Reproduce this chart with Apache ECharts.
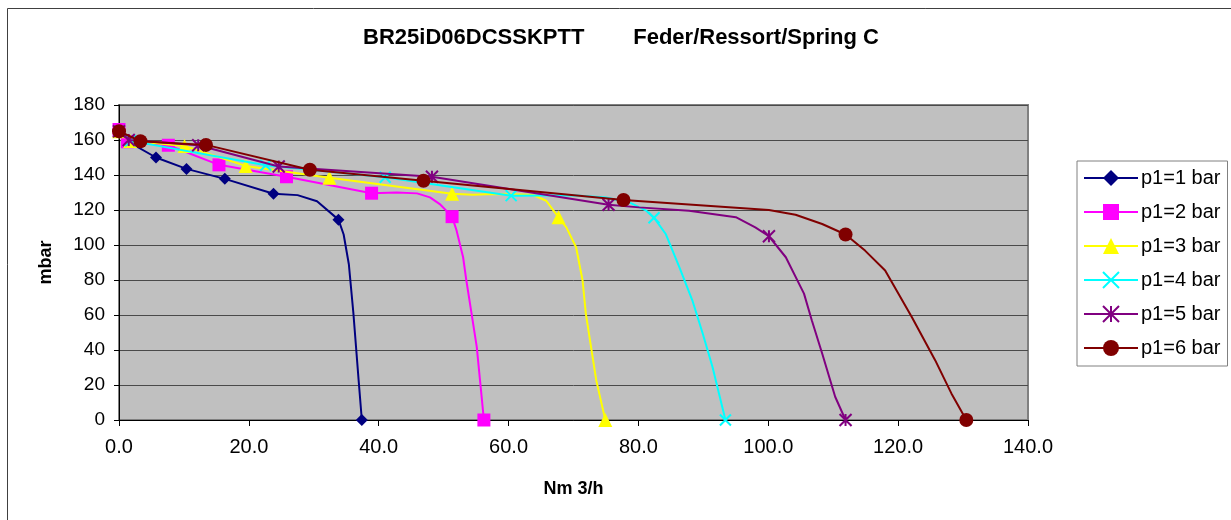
<!DOCTYPE html>
<html><head><meta charset="utf-8">
<script src="https://cdn.jsdelivr.net/npm/echarts@6/dist/echarts.min.js"></script>
<style>html,body{margin:0;padding:0;background:#fff}#c{width:1231px;height:520px}</style>
</head><body><div id="c"></div>
<script>
const chartTitle = 'BR25iD06DCSSKPTT        Feder/Ressort/Spring C';
const xAxisName = 'Nm 3/h';
const yAxisName = 'mbar';
const seriesNames = ['p1=1 bar', 'p1=2 bar', 'p1=3 bar', 'p1=4 bar', 'p1=5 bar', 'p1=6 bar'];
// points: [flow Nm3/h, pressure mbar, marker shown 1/0]
const p1bar = [[0,165,1],[1.2,159.5,1],[5.7,150,1],[10.4,143.5,1],[16.3,137.8,1],[23.8,129.3,1],[27.5,128.5,0],[30.5,125,0],[33.8,114.5,1],[34.6,106,0],[35.4,89,0],[36.1,61,0],[36.5,42,0],[36.9,23,0],[37.4,0,1]];
const p2bar = [[0,166,1],[1.3,159,1],[7.6,157,1],[15.4,145.8,1],[25.8,139,1],[38.9,129.6,1],[42.8,130,0],[45.9,129.5,0],[47.9,127.2,0],[49.4,123.4,0],[51.3,116.2,1],[52.0,108.2,0],[53.0,93,0],[53.5,79.7,0],[54.3,60.8,0],[55.1,41.8,0],[55.6,22.8,0],[56.2,0,1]];
const p3bar = [[0,165,1],[1.7,159.5,1],[10.1,156.6,1],[19.5,145.2,1],[32.4,138.4,1],[51.3,129.3,1],[54.5,128.7,0],[57.6,129.1,0],[63.7,128.7,0],[65.8,125.3,0],[67.7,115.8,1],[68.9,110.1,0],[70.4,98.7,0],[71.4,79.7,0],[71.9,60.8,0],[72.7,41.8,0],[73.5,22.8,0],[74.9,0,1]];
const p4bar = [[0,165,1],[1.8,159.5,1],[22.6,145.6,1],[41.0,138.7,1],[60.4,128.2,1],[69.8,128.4,0],[75.0,127.2,0],[78.6,124.3,0],[81.2,119.6,0],[82.4,115.6,1],[84.2,106.3,0],[86.3,87.3,0],[88.3,68.4,0],[89.9,49.4,0],[91.4,30.4,0],[93.4,0,1]];
const p5bar = [[0,165,1],[1.5,160,1],[12.2,157,1],[24.6,144.9,1],[48.2,139,1],[75.4,123,1],[80.1,121.5,0],[87.8,119.6,0],[95.0,115.9,0],[98.0,110.1,0],[100.1,105,1],[102.7,93,0],[105.5,72.2,0],[106.7,57,0],[108.3,38,0],[110.3,13.3,0],[111.9,0,1]];
const p6bar = [[0,165,1],[3.3,159.3,1],[13.4,157.2,1],[29.4,143,1],[46.9,136.7,1],[77.7,125.7,1],[100.1,120,0],[104.2,117.3,0],[108.3,112,0],[111.9,106,1],[114.9,96.8,0],[118.0,85.4,0],[122.1,58.8,0],[125.7,34.2,0],[128.2,15.2,0],[130.5,0,1]];
const allData = [p1bar, p2bar, p3bar, p4bar, p5bar, p6bar];
const xTicks = {min: 0, max: 140, interval: 20};
const yTicks = {min: 0, max: 180, interval: 20};

const colors = ['#000080', '#FF00FF', '#FFFF00', '#00FFFF', '#800080', '#800000'];
const symbols = ['diamond', 'rect', 'triangle', 'path://M0,0L10,10M10,0L0,10', 'path://M0,0L10,10M10,0L0,10M5,0L5,10', 'circle'];
const sizes = [12, 13, 14, 11, 12, 14];
const stroked = [false, false, false, true, true, false];
const FONT = '"Liberation Sans", Arial, sans-serif';

const series = allData.map((pts, i) => ({
  name: seriesNames[i],
  type: 'line',
  data: pts.map(p => p[2] ? [p[0], p[1]] : {value: [p[0], p[1]], symbol: 'none'}),
  symbol: symbols[i],
  symbolSize: sizes[i],
  showAllSymbol: true,
  lineStyle: {color: colors[i], width: 2},
  itemStyle: stroked[i] ? {color: colors[i], borderColor: colors[i], borderWidth: 2} : {color: colors[i], borderWidth: 0},
  color: colors[i],
  animation: false,
  clip: false,
  z: 3 + i
}));

const chart = echarts.init(document.getElementById('c'));
chart.setOption({
  backgroundColor: '#fff',
  animation: false,
  title: {
    text: chartTitle, left: 621, textAlign: 'center', top: 27, padding: 0,
    textStyle: {fontFamily: FONT, fontSize: 22, fontWeight: 'bold', color: '#000'}
  },
  graphic: [{
    type: 'rect', silent: true, z: 0,
    shape: {x: 7.5, y: 8.5, width: 1260, height: 560},
    style: {fill: 'none', stroke: '#404040', lineWidth: 1}
  }],
  legend: {
    orient: 'vertical', left: 1077, top: 161,
    padding: [7, 7, 8, 6],
    backgroundColor: '#fff', borderColor: '#808080', borderWidth: 1,
    itemWidth: 54, itemHeight: 20, itemGap: 14,
    textStyle: {fontFamily: FONT, fontSize: 20, color: '#000', padding: [0, 0, 0, -2]},
    data: seriesNames
  },
  grid: {
    left: 119, right: 203, top: 105, bottom: 100,
    show: true, backgroundColor: '#C0C0C0', borderColor: '#808080', borderWidth: 2
  },
  xAxis: {
    type: 'value', min: xTicks.min, max: xTicks.max, interval: xTicks.interval,
    name: xAxisName, nameLocation: 'middle', nameGap: 60,
    nameTextStyle: {fontFamily: FONT, fontSize: 18, fontWeight: 'bold', color: '#000'},
    axisLine: {show: true, onZero: false, lineStyle: {color: '#000', width: 1}},
    axisTick: {show: true, inside: false, length: 6, lineStyle: {color: '#000'}},
    axisLabel: {fontFamily: FONT, fontSize: 20, color: '#000', margin: 17, formatter: v => v.toFixed(1)},
    splitLine: {show: false}
  },
  yAxis: {
    type: 'value', min: yTicks.min, max: yTicks.max, interval: yTicks.interval,
    name: yAxisName, nameLocation: 'middle', nameGap: 64, nameRotate: 90,
    nameTextStyle: {fontFamily: FONT, fontSize: 18, fontWeight: 'bold', color: '#000'},
    axisLine: {show: true, onZero: false, lineStyle: {color: '#000', width: 1}},
    axisTick: {show: true, inside: false, length: 5, lineStyle: {color: '#000'}},
    axisLabel: {fontFamily: FONT, fontSize: 19, color: '#000', margin: 14},
    splitLine: {show: true, lineStyle: {color: '#4a4a4a', width: 1}}
  },
  series: series
});
</script>
</body></html>
